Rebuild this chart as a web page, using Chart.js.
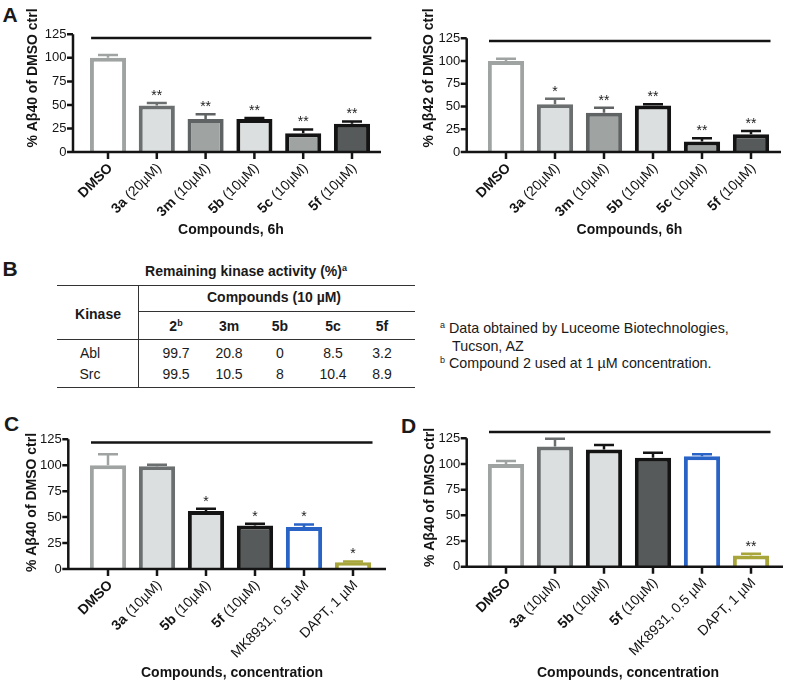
<!DOCTYPE html>
<html>
<head>
<meta charset="utf-8">
<script src="https://cdn.jsdelivr.net/npm/chart.js@4.4.1/dist/chart.umd.min.js"></script>
<style>
body { margin: 0; width: 794px; height: 690px; position: relative; background: #fff; overflow: hidden;
       font-family: "Liberation Sans", Arial, sans-serif; color: #1a1a1a; }
canvas { position: absolute; }
.t { position: absolute; white-space: nowrap; line-height: 1; font-size: 14px; transform: translate(-50%, -50%); }
.f { position: absolute; white-space: nowrap; line-height: 1; font-size: 14.3px; transform: translateY(-50%); }
.letter { font-size: 21px; font-weight: bold; }
.b { font-weight: bold; }
sup { font-size: 9px; vertical-align: 5px; line-height: 0; }
.rule { position: absolute; background: #333; }
</style>
</head>
<body>
<div class="t letter" style="left:10px;top:13.5px">A</div>
<div class="t letter" style="left:10px;top:267.5px">B</div>
<div class="t letter" style="left:11.5px;top:422.5px">C</div>
<div class="t letter" style="left:408.5px;top:425px">D</div>

<canvas id="chartA40" width="395" height="245" style="left:0;top:0"></canvas>
<canvas id="chartA42" width="394" height="245" style="left:400px;top:0"></canvas>
<canvas id="chartC" width="395" height="300" style="left:0;top:390px"></canvas>
<canvas id="chartD" width="394" height="300" style="left:400px;top:390px"></canvas>

<div id="tableB"></div>

<script>
// panel A: Aβ40 / Aβ42 after 6h
const labelsA = [['DMSO', ''], ['3a', ' (20µM)'], ['3m', ' (10µM)'], ['5b', ' (10µM)'], ['5c', ' (10µM)'], ['5f', ' (10µM)']];
const abeta40A = [100, 49.5, 35, 35, 20, 30];
const abeta40ASem = [3, 2.5, 5, 1, 4, 2.5];
const abeta40AStars = ['', '**', '**', '**', '**', '**'];
const abeta42A = [100, 52.5, 43, 51, 11.5, 19.5];
const abeta42ASem = [2.5, 6, 5.5, 1.5, 3.5, 3.5];
const abeta42AStars = ['', '*', '**', '**', '**', '**'];

// panels C and D
const labelsCD = [['DMSO', ''], ['3a', ' (10µM)'], ['5b', ' (10µM)'], ['5f', ' (10µM)'], ['', 'MK8931, 0.5 µM'], ['', 'DAPT, 1 µM']];
const abeta40C = [100, 99, 56, 42, 40.5, 6.5];
const abeta40CSem = [10.5, 1.5, 2, 1.7, 2.5, 0.8];
const abeta40CStars = ['', '', '*', '*', '*', '*'];
const abeta40D = [100, 117, 114, 106, 107.5, 11];
const abeta40DSem = [3, 7.5, 4.5, 5, 2, 1.5];
const abeta40DStars = ['', '', '', '', '', '**'];

// level of the bracket line over each panel (A40, A42, C, D)
const bracketLevels = [121, 122, 122, 131];
const yTicks = [0, 25, 50, 75, 100, 125];

// panel B table
const kinases = ['Abl', 'Src'];
const compoundsB = [['2', 'b'], ['3m', ''], ['5b', ''], ['5c', ''], ['5f', '']];
const activityB = [[99.7, 20.8, 0, 8.5, 3.2], [99.5, 10.5, 8, 10.4, 8.9]];

const grayLight = '#dcdfdf', grayMid = '#9fa4a3', grayDark = '#6b6f6f', grayDarker = '#5f6363', dark = '#565a5a', ink = '#141414';
const fillsA = ['#ffffff', grayLight, grayMid, grayLight, grayMid, dark];
const bordersA = [grayMid, grayDark, grayDarker, ink, ink, ink];
const fillsCD = ['#ffffff', grayLight, grayLight, dark, '#ffffff', '#ffffff'];
const bordersCD = [grayMid, grayDark, ink, ink, '#2a63c6', '#a8a63a'];

const FONT = '"Liberation Sans", Arial, sans-serif';

function overlay(p) {
  return {
    id: 'overlay',
    afterDatasetsDraw(chart) {
      const ctx = chart.ctx, y = chart.scales.y, area = chart.chartArea;
      const meta = chart.getDatasetMeta(0);
      const y0 = y.getPixelForValue(0);
      ctx.save();
      ctx.lineCap = 'butt';

      // error bars + stars
      p.values.forEach((v, i) => {
        const cx = meta.data[i].x;
        const top = y.getPixelForValue(v + p.sem[i]);
        const base = y.getPixelForValue(v);
        ctx.strokeStyle = p.borders[i];
        ctx.lineWidth = 2.5;
        ctx.beginPath();
        ctx.moveTo(cx, base);
        ctx.lineTo(cx, top);
        ctx.moveTo(cx - 10, top);
        ctx.lineTo(cx + 10, top);
        ctx.stroke();
        if (p.stars[i]) {
          ctx.fillStyle = '#222';
          ctx.font = '14px ' + FONT;
          ctx.textAlign = 'center';
          ctx.textBaseline = 'alphabetic';
          ctx.fillText(p.stars[i], cx, top - 3);
        }
      });

      // axes
      ctx.strokeStyle = ink;
      ctx.lineWidth = 2.5;
      ctx.beginPath();
      ctx.moveTo(p.L.axisX, y.getPixelForValue(125));
      ctx.lineTo(p.L.axisX, y0 + 1.25);
      ctx.moveTo(p.L.axisX - 1.25, y0);
      ctx.lineTo(p.L.axisEnd, y0);
      yTicks.forEach(t => {
        const py = y.getPixelForValue(t);
        ctx.moveTo(p.L.axisX - 6, py);
        ctx.lineTo(p.L.axisX, py);
      });
      meta.data.forEach(b => {
        ctx.moveTo(b.x, y0);
        ctx.lineTo(b.x, y0 + 7);
      });
      ctx.stroke();

      // bracket
      const by = y.getPixelForValue(p.bracket);
      ctx.beginPath();
      ctx.moveTo(area.left + 7.5, by);
      ctx.lineTo(area.right - 5, by);
      ctx.stroke();

      // category labels, bold compound code + plain concentration
      ctx.fillStyle = ink;
      ctx.textAlign = 'right';
      ctx.textBaseline = 'middle';
      p.labels.forEach((lab, i) => {
        const cx = meta.data[i].x;
        ctx.save();
        ctx.translate(cx + 2.5, y0 + 14);
        ctx.rotate(-Math.PI / 4);
        ctx.font = '14px ' + FONT;
        const w2 = ctx.measureText(lab[1]).width;
        ctx.fillText(lab[1], 0, 0);
        ctx.font = 'bold 14px ' + FONT;
        ctx.fillText(lab[0], -w2, 0);
        ctx.restore();
      });

      // axis titles
      ctx.font = 'bold 14px ' + FONT;
      ctx.textAlign = 'center';
      ctx.fillText(p.xTitle, p.L.xTitleX, p.L.xTitleY);
      ctx.save();
      ctx.translate(p.L.titleX, p.L.titleY);
      ctx.rotate(-Math.PI / 2);
      ctx.fillText(p.yTitle, 0, 0);
      ctx.restore();
      ctx.restore();
    }
  };
}

function makePanel(id, p) {
  const L = p.L;
  new Chart(document.getElementById(id), {
    type: 'bar',
    data: {
      labels: p.labels.map(l => l.join('')),
      datasets: [{
        data: p.values,
        backgroundColor: p.fills,
        borderColor: p.borders,
        borderWidth: 4,
        barPercentage: 0.74,
        categoryPercentage: 1
      }]
    },
    options: {
      responsive: false,
      animation: false,
      layout: { padding: { left: 0, top: L.top, right: L.rightPad, bottom: 0 } },
      plugins: { legend: { display: false }, tooltip: { enabled: false } },
      scales: {
        x: {
          grid: { display: false, drawTicks: false },
          border: { display: false },
          ticks: { display: false },
          afterFit: s => { s.height = L.h - L.zero; }
        },
        y: {
          min: 0,
          max: 135,
          grid: { display: false, drawTicks: false },
          border: { display: false },
          ticks: {
            stepSize: 25,
            includeBounds: false,
            padding: L.left - L.axisX + 6.5,
            color: ink,
            font: { size: 13, family: FONT }
          },
          afterFit: s => { s.width = L.left; }
        }
      }
    },
    plugins: [overlay(p)]
  });
}

makePanel('chartA40', {
  labels: labelsA, values: abeta40A, sem: abeta40ASem, stars: abeta40AStars,
  fills: fillsA, borders: bordersA, bracket: bracketLevels[0],
  yTitle: '% Aβ40 of DMSO ctrl', xTitle: 'Compounds, 6h',
  L: { h: 245, left: 83.6, rightPad: 18.6, top: 11.6, zero: 152, axisX: 73, axisEnd: 381,
       titleX: 33.5, titleY: 78, xTitleX: 231, xTitleY: 230.5 }
});
makePanel('chartA42', {
  labels: labelsA, values: abeta42A, sem: abeta42ASem, stars: abeta42AStars,
  fills: fillsA, borders: bordersA, bracket: bracketLevels[1],
  yTitle: '% Aβ42 of DMSO ctrl', xTitle: 'Compounds, 6h',
  L: { h: 245, left: 81.5, rightPad: 18.5, top: 11.6, zero: 152, axisX: 66.7, axisEnd: 381,
       titleX: 29, titleY: 78, xTitleX: 229.5, xTitleY: 230.5 }
});
makePanel('chartC', {
  labels: labelsCD, values: abeta40C, sem: abeta40CSem, stars: abeta40CStars,
  fills: fillsCD, borders: bordersCD, bracket: bracketLevels[2],
  yTitle: '% Aβ40 of DMSO ctrl', xTitle: 'Compounds, concentration',
  L: { h: 300, left: 83.5, rightPad: 17.5, top: 38.9, zero: 179, axisX: 68.3, axisEnd: 386,
       titleX: 32.5, titleY: 112.5, xTitleX: 232, xTitleY: 283.5 }
});
makePanel('chartD', {
  labels: labelsCD, values: abeta40D, sem: abeta40DSem, stars: abeta40DStars,
  fills: fillsCD, borders: bordersCD, bracket: bracketLevels[3],
  yTitle: '% Aβ40 of DMSO ctrl', xTitle: 'Compounds, concentration',
  L: { h: 300, left: 81.5, rightPad: 18.5, top: 38, zero: 176.7, axisX: 66.7, axisEnd: 383,
       titleX: 30, titleY: 107.5, xTitleX: 228, xTitleY: 283.5 }
});

// table B
(function buildTable() {
  const box = document.getElementById('tableB');
  const colX = [176, 229, 280, 333, 382];
  const rowY = [353, 374];
  let html = '';
  const t = (x, y, txt, cls) => { html += `<div class="t ${cls || ''}" style="left:${x}px;top:${y}px">${txt}</div>`; };
  const rule = (x, y, w, h) => { html += `<div class="rule" style="left:${x}px;top:${y}px;width:${w}px;height:${h}px"></div>`; };
  t(246, 271, 'Remaining kinase activity (%)<sup>a</sup>', 'b');
  rule(57, 284.5, 358, 1.5);
  rule(137.5, 284.5, 1.5, 103);
  rule(138, 310.5, 277, 1.5);
  rule(57, 338.5, 358, 1.5);
  rule(57, 386.5, 358, 1.5);
  t(274, 297, 'Compounds (10 µM)', 'b');
  t(98, 314, 'Kinase', 'b');
  compoundsB.forEach((c, i) => t(colX[i], 326, c[0] + (c[1] ? '<sup>' + c[1] + '</sup>' : ''), 'b'));
  kinases.forEach((k, r) => {
    t(90, rowY[r], k);
    activityB[r].forEach((v, i) => t(colX[i], rowY[r], String(v)));
  });
  html += '<div class="f" style="left:440px;top:328px"><sup>a</sup> Data obtained by Luceome Biotechnologies,</div>';
  html += '<div class="f" style="left:452px;top:346px">Tucson, AZ</div>';
  html += '<div class="f" style="left:440px;top:363px"><sup>b</sup> Compound 2 used at 1 µM concentration.</div>';
  box.innerHTML = html;
})();
</script>
</body>
</html>
